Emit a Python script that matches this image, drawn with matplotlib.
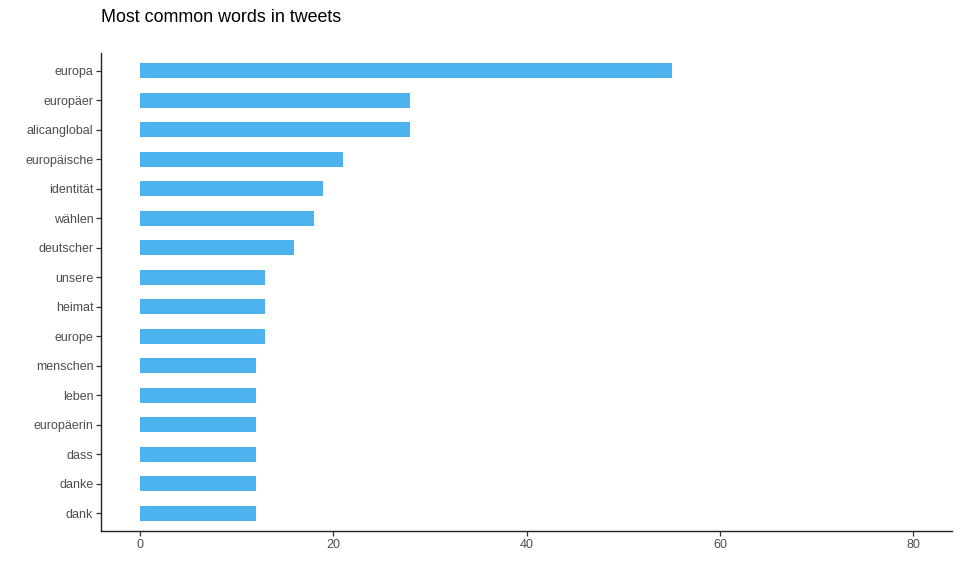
import matplotlib.pyplot as plt
import numpy as np

plt.rcParams['font.family'] = ['Liberation Sans', 'DejaVu Sans']

# dados (de cima para baixo)
palavras = ['europa', 'europäer', 'alicanglobal', 'europäische', 'identität',
            'wählen', 'deutscher', 'unsere', 'heimat', 'europe', 'menschen',
            'leben', 'europäerin', 'dass', 'danke', 'dank']
contagem = [55, 28, 28, 21, 19, 18, 16, 13, 13, 13, 12, 12, 12, 12, 12, 12]
xticks = [0, 20, 40, 60, 80]

W, H = 960, 576
fig = plt.figure(figsize=(W / 100, H / 100), dpi=100)
ax = fig.add_axes([101 / W, 1 - 531 / H, (952 - 101) / W, (531 - 53) / H])

n = len(palavras)
y = np.arange(n, 0, -1)
ax.barh(y, contagem, height=0.5, color='#4DB3EE')

ax.set_xlim(-4, 84)
ax.set_ylim(0.4, n + 0.6)
ax.set_xticks(xticks)
ax.set_yticks(y)
ax.set_yticklabels(palavras)

for lado in ['top', 'right']:
    ax.spines[lado].set_visible(False)
for lado in ['left', 'bottom']:
    ax.spines[lado].set_color('#222222')
    ax.spines[lado].set_linewidth(1.0)

ax.tick_params(axis='both', colors='#333333', length=3.5, width=0.9,
               labelsize=9, labelcolor='#4D4D4D', pad=2.0)

fig.text(101 / W, 1 - 17 / H, 'Most common words in tweets', fontsize=12.9,
         va='center', ha='left', color='black')

fig.savefig('out.png', dpi=100)
